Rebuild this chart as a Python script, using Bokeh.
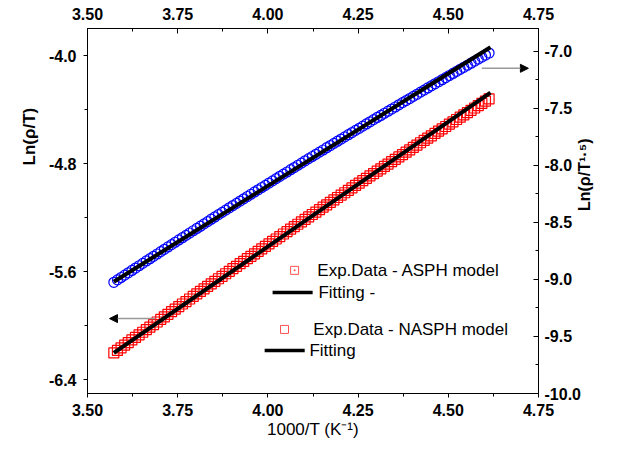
import math
from bokeh.plotting import figure
from bokeh.models import Range1d, LinearAxis, FixedTicker, NumeralTickFormatter, Arrow, NormalHead, Title
from bokeh.core.properties import value
from bokeh.embed import file_html
from bokeh.resources import INLINE

# ---- data ----
inv_T = [3.573, 3.583, 3.593, 3.603, 3.613, 3.623, 3.633, 3.643, 3.653, 3.663,
         3.673, 3.683, 3.693, 3.703, 3.713, 3.723, 3.733, 3.743, 3.753, 3.763,
         3.773, 3.783, 3.793, 3.803, 3.813, 3.823, 3.833, 3.843, 3.853, 3.863,
         3.873, 3.883, 3.893, 3.903, 3.913, 3.923, 3.933, 3.943, 3.953, 3.963,
         3.973, 3.983, 3.993, 4.003, 4.013, 4.023, 4.033, 4.043, 4.053, 4.063,
         4.073, 4.083, 4.093, 4.103, 4.113, 4.123, 4.133, 4.143, 4.153, 4.163,
         4.173, 4.183, 4.193, 4.203, 4.213, 4.223, 4.233, 4.243, 4.253, 4.263,
         4.273, 4.283, 4.293, 4.303, 4.313, 4.323, 4.333, 4.343, 4.353, 4.363,
         4.373, 4.383, 4.393, 4.403, 4.413, 4.423, 4.433, 4.443, 4.453, 4.463,
         4.473, 4.483, 4.493, 4.503, 4.513, 4.523, 4.533, 4.543, 4.553, 4.563,
         4.573, 4.583, 4.593, 4.603, 4.613]

# Ln(rho/T)  -- ASPH model (left axis)
ln_rho_T = [-6.200, -6.181, -6.162, -6.142, -6.123, -6.104, -6.085, -6.066, -6.047, -6.028,
            -6.009, -5.990, -5.971, -5.952, -5.933, -5.914, -5.895, -5.876, -5.857, -5.838,
            -5.820, -5.801, -5.782, -5.763, -5.745, -5.726, -5.708, -5.689, -5.670, -5.651,
            -5.633, -5.614, -5.596, -5.577, -5.559, -5.540, -5.522, -5.503, -5.485, -5.467,
            -5.449, -5.430, -5.412, -5.393, -5.375, -5.357, -5.339, -5.320, -5.302, -5.284,
            -5.266, -5.248, -5.230, -5.212, -5.194, -5.176, -5.158, -5.140, -5.122, -5.104,
            -5.086, -5.068, -5.050, -5.032, -5.015, -4.997, -4.979, -4.961, -4.944, -4.926,
            -4.908, -4.890, -4.873, -4.855, -4.838, -4.820, -4.803, -4.785, -4.768, -4.750,
            -4.733, -4.715, -4.698, -4.680, -4.663, -4.645, -4.628, -4.611, -4.594, -4.576,
            -4.559, -4.542, -4.525, -4.507, -4.490, -4.473, -4.456, -4.439, -4.422, -4.405,
            -4.388, -4.371, -4.354, -4.337, -4.320]

# Ln(rho/T^1.5) -- NASPH model (right axis)
ln_rho_T15 = [-9.025, -9.004, -8.983, -8.962, -8.942, -8.921, -8.900, -8.880, -8.859, -8.838,
              -8.818, -8.797, -8.777, -8.756, -8.736, -8.715, -8.695, -8.674, -8.654, -8.634,
              -8.614, -8.593, -8.573, -8.553, -8.533, -8.513, -8.493, -8.472, -8.452, -8.432,
              -8.412, -8.392, -8.372, -8.352, -8.333, -8.313, -8.293, -8.273, -8.253, -8.233,
              -8.214, -8.194, -8.175, -8.155, -8.136, -8.116, -8.096, -8.077, -8.058, -8.038,
              -8.019, -7.999, -7.980, -7.960, -7.941, -7.922, -7.903, -7.884, -7.865, -7.845,
              -7.826, -7.807, -7.788, -7.769, -7.750, -7.731, -7.712, -7.693, -7.675, -7.656,
              -7.637, -7.618, -7.599, -7.580, -7.562, -7.543, -7.525, -7.506, -7.488, -7.469,
              -7.450, -7.432, -7.414, -7.395, -7.377, -7.358, -7.340, -7.321, -7.303, -7.285,
              -7.267, -7.249, -7.231, -7.212, -7.194, -7.176, -7.158, -7.140, -7.122, -7.104,
              -7.086, -7.068, -7.051, -7.033, -7.015]

fit_x = [3.573, 4.617]
fit_asph = [-6.200, -4.275]
fit_nasph = [-9.020, -6.965]

x_ticks = [3.50, 3.75, 4.00, 4.25, 4.50, 4.75]
x_minor = [3.625, 3.875, 4.125, 4.375, 4.625]
left_ticks = [-6.4, -5.6, -4.8, -4.0]
left_minor = [-6.0, -5.2, -4.4]
right_ticks = [-10.0, -9.5, -9.0, -8.5, -8.0, -7.5, -7.0]
right_minor = [-9.75, -9.25, -8.75, -8.25, -7.75, -7.25]

legend_labels = ["Exp.Data - ASPH model", "Fitting -", "Exp.Data - NASPH model", "Fitting"]

FONT = "Liberation Sans"

p = figure(width=604, height=445,
           x_range=Range1d(3.5, 4.75), y_range=Range1d(-6.5, -3.8),
           output_backend="svg", toolbar_location=None,
           min_border_left=87, min_border_right=64, min_border_top=28, min_border_bottom=52,
           background_fill_color="white", border_fill_color="white")
p.extra_y_ranges = {"right": Range1d(-10.0, -6.8)}
p.grid.visible = False
p.outline_line_color = "black"
p.outline_line_width = 1


def style_axis(ax, inward, fmt):
    ax.axis_line_color = "black"
    ax.major_tick_line_color = "black"
    ax.minor_tick_line_color = "black"
    if inward:
        ax.major_tick_in, ax.major_tick_out = 5, 0
        ax.minor_tick_in, ax.minor_tick_out = 3, 0
    else:
        ax.major_tick_in, ax.major_tick_out = 0, 4
        ax.minor_tick_in, ax.minor_tick_out = 0, 3
    ax.major_label_text_font = FONT
    ax.major_label_text_font_style = "bold"
    ax.major_label_text_font_size = "16px"
    ax.major_label_text_color = "black"
    ax.formatter = NumeralTickFormatter(format=fmt)
    ax.axis_label_text_font = FONT
    ax.axis_label_text_color = "black"


xb = p.xaxis[0]
xb.ticker = FixedTicker(ticks=x_ticks, minor_ticks=x_minor)
style_axis(xb, False, "0.00")
xb.major_label_standoff = 6
xb.axis_label = "1000/T (K\u207b\u00b9)"
xb.axis_label_text_font_size = "17px"
xb.axis_label_text_font_style = "normal"
xb.axis_label_standoff = 1

yl = p.yaxis[0]
yl.ticker = FixedTicker(ticks=left_ticks, minor_ticks=left_minor)
style_axis(yl, False, "0.0")
yl.major_label_standoff = 7

xt = LinearAxis(ticker=FixedTicker(ticks=x_ticks, minor_ticks=x_minor))
style_axis(xt, True, "0.00")
xt.major_label_standoff = 9
p.add_layout(xt, "above")

yr = LinearAxis(y_range_name="right", ticker=FixedTicker(ticks=right_ticks, minor_ticks=right_minor))
style_axis(yr, True, "0.0")
yr.major_label_standoff = 6
yr.axis_label = "Ln(\u03c1/T\u00b9\u00b7\u2075)"
yr.axis_label_text_font_size = "16px"
yr.axis_label_text_font_style = "bold"
yr.axis_label_standoff = 1
try:
    yr.axis_label_orientation = math.pi / 2
except Exception:
    pass
p.add_layout(yr, "right")

# left axis title, placed off-centre (upper part) like the original
p.add_layout(Title(text="Ln(\u03c1/T)", align="left", offset=228, standoff=14,
                   text_font=FONT, text_font_size="17px", text_font_style="bold",
                   text_color="black"), "left")

# data
p.scatter(inv_T, ln_rho_T, marker="square", size=10, fill_color=None,
          line_color="#ff0000", line_width=1.2)
p.scatter(inv_T, ln_rho_T15, marker="circle", size=10, fill_color=None,
          line_color="#0000ff", line_width=1.2, y_range_name="right")
p.line(fit_x, fit_asph, line_color="black", line_width=4)
p.line(fit_x, fit_nasph, line_color="black", line_width=4, y_range_name="right")

# arrows
p.add_layout(Arrow(end=NormalHead(size=8, fill_color="black", line_color="black"),
                   x_start=3.688, y_start=-5.946, x_end=3.561, y_end=-5.946,
                   line_color="#999999", line_width=1.5))
p.add_layout(Arrow(end=NormalHead(size=8, fill_color="black", line_color="black"),
                   x_start=4.593, y_start=-7.149, x_end=4.722, y_end=-7.149,
                   line_color="#999999", line_width=1.5, y_range_name="right"))

# legend (hand-placed, as in the original)
p.scatter([4.074], [-5.589], marker="square_dot", size=8, fill_color=None,
          line_color="#ff5050", line_width=1)
p.scatter([4.046], [-6.026], marker="square", size=8, fill_color=None,
          line_color="#ff5050", line_width=1)
p.line([4.013, 4.124], [-5.752, -5.752], line_color="black", line_width=3.5)
p.line([3.991, 4.102], [-6.181, -6.181], line_color="black", line_width=3.5)
p.text(x=[4.137, 4.140, 4.126, 4.115], y=[-5.589, -5.752, -6.026, -6.181],
       text=legend_labels, text_font=value(FONT), text_font_size="17px",
       text_baseline="middle", text_align="left", text_color="black")

open("out.html", "w").write(file_html(p, INLINE))
